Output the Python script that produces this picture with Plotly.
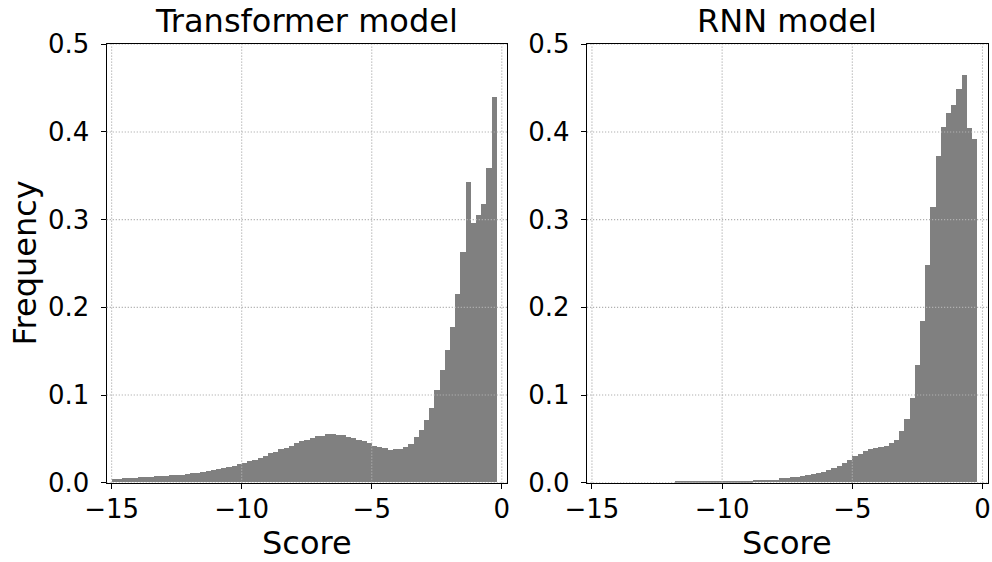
import numpy as np
import plotly.graph_objects as go

# ---- data (histogram bin heights) ----
bin_start = -15.0
bin_width = 0.2

transformer_freq = [
    0.0034, 0.0034, 0.0046, 0.0046, 0.0046, 0.0057, 0.0057, 0.0057, 0.0068, 0.0068,
    0.0068, 0.0080, 0.0080, 0.0080, 0.0091, 0.0103, 0.0103, 0.0114, 0.0125, 0.0141,
    0.0152, 0.0160, 0.0171, 0.0190, 0.0205, 0.0217, 0.0240, 0.0259, 0.0281, 0.0304,
    0.0331, 0.0350, 0.0384, 0.0395, 0.0418, 0.0452, 0.0475, 0.0487, 0.0510, 0.0532,
    0.0532, 0.0555, 0.0555, 0.0544, 0.0544, 0.0521, 0.0510, 0.0487, 0.0475, 0.0452,
    0.0418, 0.0407, 0.0395, 0.0373, 0.0384, 0.0386, 0.0408, 0.0443, 0.0514, 0.0593,
    0.0707, 0.0854, 0.1053, 0.1278, 0.1506, 0.1768, 0.2144, 0.2624, 0.3422, 0.2958,
    0.3046, 0.3171, 0.3582, 0.4392,
]

rnn_freq = [
    0.0, 0.0, 0.0, 0.0, 0.0, 0.0, 0.0, 0.0, 0.0, 0.0,
    0.0, 0.0, 0.0, 0.0, 0.0, 0.0, 0.0011, 0.0011, 0.0011, 0.0011,
    0.0011, 0.0011, 0.0011, 0.0011, 0.0011, 0.0011, 0.0011, 0.0011, 0.0011, 0.0011,
    0.0011, 0.0025, 0.0027, 0.0027, 0.0027, 0.0027, 0.0046, 0.0046, 0.0057, 0.0057,
    0.0068, 0.0080, 0.0091, 0.0103, 0.0114, 0.0137, 0.0160, 0.0183, 0.0217, 0.0251,
    0.0297, 0.0319, 0.0354, 0.0376, 0.0388, 0.0407, 0.0420, 0.0444, 0.0489, 0.0583,
    0.0727, 0.0968, 0.1337, 0.1836, 0.2476, 0.3143, 0.3722, 0.4053, 0.4213, 0.4305,
    0.4488, 0.4648, 0.4042, 0.3916,
]

panel_titles = ["Transformer model", "RNN model"]
x_label = "Score"
y_label = "Frequency"
x_ticks = [-15, -10, -5, 0]
x_tick_labels = ["\u221215", "\u221210", "\u22125", "0"]
y_ticks = [0.0, 0.1, 0.2, 0.3, 0.4, 0.5]
y_tick_labels = ["0.0", "0.1", "0.2", "0.3", "0.4", "0.5"]

# ---- figure ----
W, H = 992, 562
FONT = "DejaVu Sans"
TICK_SIZE = 26
LABEL_SIZE = 32
BAR_COLOR = "#808080"
GRID_COLOR = "#b0b0b0"

dom_x = [[106.7 / W, 507.0 / W], [587.0 / W, 987.7 / W]]
dom_y = [(H - 482.7) / H, (H - 44.3) / H]
x_range = [-15.19, 0.2]
y_range = [0.0, 0.5]

fig = go.Figure()
for k, vals in enumerate([transformer_freq, rnn_freq]):
    centers = bin_start + bin_width * (np.arange(len(vals)) + 0.5)
    sfx = "" if k == 0 else str(k + 1)
    fig.add_trace(go.Bar(
        x=centers, y=vals, width=bin_width,
        marker=dict(color=BAR_COLOR, line=dict(width=0)),
        xaxis="x" + sfx, yaxis="y" + sfx, showlegend=False, hoverinfo="skip",
    ))

layout = dict(
    width=W, height=H, margin=dict(l=0, r=0, t=0, b=0, autoexpand=False),
    paper_bgcolor="white", plot_bgcolor="white", bargap=0,
    font=dict(family=FONT, color="black", size=TICK_SIZE),
)
for k in range(2):
    sfx = "" if k == 0 else str(k + 1)
    layout["xaxis" + sfx] = dict(
        showgrid=False, zeroline=False, showline=True, linecolor="black", linewidth=1.3,
        mirror=True, ticks="outside", ticklen=5, tickwidth=1.3, tickcolor="black",
        tickfont=dict(family=FONT, size=TICK_SIZE, color="black"),
        automargin=False,
        domain=dom_x[k], range=x_range, anchor="y" + sfx,
        tickmode="array", tickvals=x_ticks, ticktext=x_tick_labels,
        ticklabelstandoff=-2,
    )
    layout["yaxis" + sfx] = dict(
        showgrid=False, zeroline=False, showline=True, linecolor="black", linewidth=1.3,
        mirror=True, ticks="outside", ticklen=5, tickwidth=1.3, tickcolor="black",
        tickfont=dict(family=FONT, size=TICK_SIZE, color="black"),
        automargin=False,
        domain=dom_y, range=y_range, anchor="x" + sfx,
        tickmode="array", tickvals=y_ticks, ticktext=y_tick_labels,
        ticklabelstandoff=6,
    )
fig.update_layout(**layout)

# gridlines drawn above bars (as in matplotlib default)
shapes = []
for k in range(2):
    sfx = "" if k == 0 else str(k + 1)
    for xv in x_ticks:
        shapes.append(dict(type="line", xref="x" + sfx, yref="y" + sfx + " domain",
                           x0=xv, x1=xv, y0=0, y1=1, layer="above",
                           line=dict(color=GRID_COLOR, width=1.1, dash="1.2px,1.8px")))
    for yv in y_ticks:
        shapes.append(dict(type="line", xref="x" + sfx + " domain", yref="y" + sfx,
                           x0=0, x1=1, y0=yv, y1=yv, layer="above",
                           line=dict(color=GRID_COLOR, width=1.1, dash="1.2px,1.8px")))
fig.update_layout(shapes=shapes)

annotations = []
for k in range(2):
    cx = (dom_x[k][0] + dom_x[k][1]) / 2
    annotations.append(dict(text=panel_titles[k], x=cx, y=1 - 21.5 / H,
                            xref="paper", yref="paper", showarrow=False,
                            xanchor="center", yanchor="middle",
                            font=dict(family=FONT, size=LABEL_SIZE, color="black")))
    annotations.append(dict(text=x_label, x=cx, y=1 - 543.0 / H,
                            xref="paper", yref="paper", showarrow=False,
                            xanchor="center", yanchor="middle",
                            font=dict(family=FONT, size=LABEL_SIZE, color="black")))
annotations.append(dict(text=y_label, x=24.0 / W, y=1 - 263.5 / H, textangle=-90,
                        xref="paper", yref="paper", showarrow=False,
                        xanchor="center", yanchor="middle",
                        font=dict(family=FONT, size=LABEL_SIZE, color="black")))
fig.update_layout(annotations=annotations)

fig.write_html("out.html")
